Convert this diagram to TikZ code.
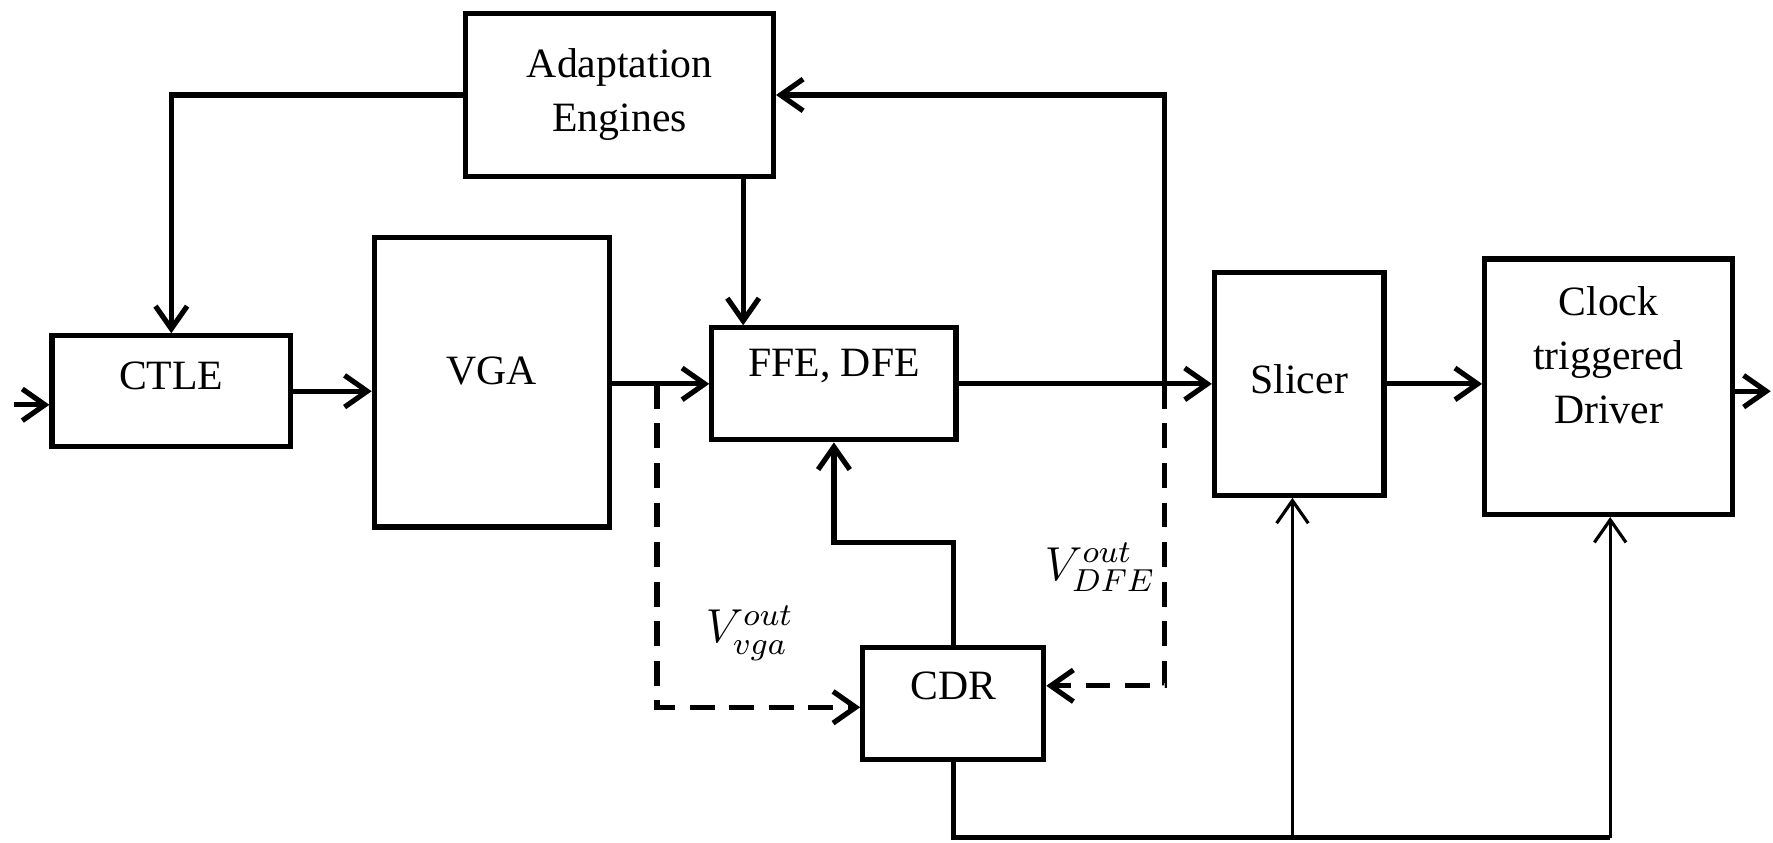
\documentclass[tikz,border=0pt]{standalone}
\usepackage{fontspec}
\setmainfont{Liberation Serif}
\usepackage{tikz}
\usetikzlibrary{arrows.meta,positioning,calc}

\begin{document}
\begin{tikzpicture}[
    blk/.style={draw,line width=1.3pt,inner sep=0pt,align=center,font=\fontsize{10.5}{13.6}\selectfont},
    every label/.style={align=center,font=\fontsize{10.5}{13.6}\selectfont},
    wire/.style={line width=1.3pt},
    thinwire/.style={line width=0.8pt},
    sig/.style={line width=1.3pt,dash pattern=on 2.2mm off 1.3mm},
    >={Straight Barb[length=2mm,width=2.8mm]}
  ]
    \useasboundingbox (0,0) rectangle (15.68,7.45);
    % blocks
    \node[blk,minimum width=2.72cm,minimum height=1.44cm] (adapt) at (5.48,6.61) {Adaptation\\Engines};
    \node[blk,minimum width=2.11cm,minimum height=0.98cm,label={[name=ctletxt,yshift=1.4mm]center:CTLE}] (ctle) at (1.515,3.99) {};
    \node[blk,minimum width=2.08cm,minimum height=2.56cm,label={[name=vgatxt,yshift=1.0mm]center:VGA}] (vga) at (4.35,4.07) {};
    \node[blk,minimum width=2.16cm,minimum height=0.99cm,label={[name=ffetxt,yshift=1.6mm]center:FFE, DFE}] (ffe) at (7.375,4.055) {};
    \node[blk,minimum width=1.50cm,minimum height=1.97cm,label={[name=slicertxt,yshift=0.4mm]center:Slicer}] (slicer) at (11.49,4.055) {};
    \node[blk,minimum width=2.19cm,minimum height=2.26cm,label={[name=drivertxt,yshift=2.8mm]center:Clock\\triggered\\Driver}] (driver) at (14.225,4.03) {};
    \node[blk,minimum width=1.60cm,minimum height=0.99cm,label={[name=cdrtxt,yshift=1.6mm]center:CDR}] (cdr) at (8.43,1.225) {};
    % signal labels
    \node[font=\large] (vvga) at (6.63,1.85) {$V_{vga}^{out}$};
    \node[font=\large] (vdfe) at (9.73,2.43) {$V_{DFE}^{out}$};
    % helper points
    \coordinate (in) at (0.12,3.87);
    \coordinate (out) at (15.66,3.99);
    \coordinate (fb) at (10.30,4.055);
    \coordinate (vtap) at (5.81,4.055);
    \coordinate (bus) at (11.43,0.04);
    \coordinate (bus2) at (14.24,0.04);
    % data path
    \draw[wire,->] (in) -- (in -| ctle.west);
    \draw[wire,->] (ctle.east) -- (ctle -| vga.west);
    \draw[wire,->] (vga.east |- ffe) -- (ffe.west);
    \draw[wire,->] (ffe.east) -- (ffe -| slicer.west);
    \draw[wire,->] (slicer.east) -- (slicer -| driver.west);
    \draw[wire,->] (driver.east |- out) -- (out);
    % adaptation loop
    \draw[wire,->] (adapt.west) -| (ctle.north);
    \draw[wire,->] ([xshift=3mm]ffe.north west |- adapt.south) -- ([xshift=3mm]ffe.north west);
    \draw[wire,->] (fb) |- (adapt.east);
    % clock recovery
    \draw[sig,->] (vtap) |- ([yshift=-0.3mm]cdr.west);
    \draw[sig,->] (fb) |- ([yshift=1.6mm]cdr.east);
    \draw[wire,->] (cdr.north) -- ++(0,0.91) -| (ffe.south);
    \draw[wire] (cdr.south) |- (bus2);
    \draw[thinwire,->] (bus) -- (bus |- slicer.south);
    \draw[thinwire,->] (bus2) -- (bus2 |- driver.south);
  \end{tikzpicture}
\end{document}
